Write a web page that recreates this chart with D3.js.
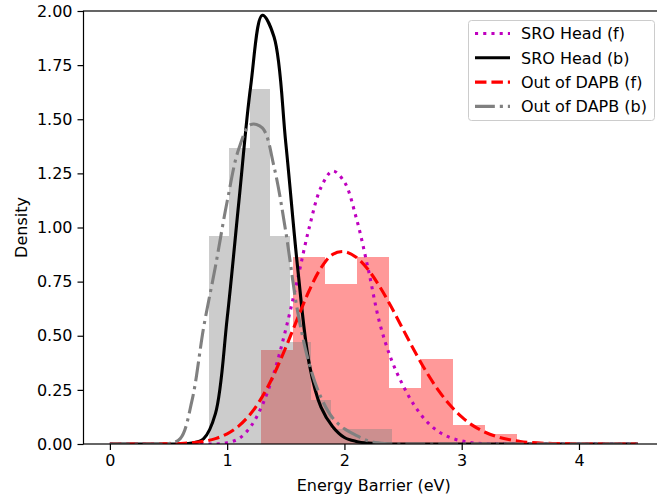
<!DOCTYPE html>
<html>
<head>
<meta charset="utf-8">
<title>Energy barrier density</title>
<script src="https://d3js.org/d3.v7.min.js"></script>
<style>
  body { margin: 0; background: #fff; }
  text { font-family: "DejaVu Sans", sans-serif; fill: #000; }
</style>
</head>
<body>
<script>
// sample grid (eV) shared by the four density curves
var energyGrid = [0.0, 0.1, 0.2, 0.3, 0.4, 0.5, 0.6, 0.7, 0.8, 0.9,
                  1.0, 1.1, 1.2, 1.3, 1.4, 1.5, 1.6, 1.7, 1.8, 1.9,
                  2.0, 2.1, 2.2, 2.3, 2.4, 2.5, 2.6, 2.7, 2.8, 2.9,
                  3.0, 3.1, 3.2, 3.3, 3.4, 3.5, 3.6, 3.7, 3.8, 3.9,
                  4.0, 4.1, 4.2, 4.3, 4.4, 4.5];

var sroHeadF = [0, 0, 0, 0, 0, 0, 0, 0, 0, 0,
                0.006, 0.025, 0.08, 0.18, 0.33, 0.53, 0.76, 1.0, 1.185, 1.261,
                1.21, 1.046, 0.815, 0.56, 0.39, 0.27, 0.175, 0.105, 0.058, 0.03,
                0.014, 0.005, 0.001, 0, 0, 0, 0, 0, 0, 0,
                0, 0, 0, 0, 0, 0];

var sroHeadB = [0, 0, 0, 0, 0, 0, 0, 0.004, 0.025, 0.14,
                0.58, 1.12, 1.65, 1.98, 1.88, 1.39, 0.82, 0.37, 0.17, 0.08,
                0.03, 0.012, 0.004, 0.001, 0, 0, 0, 0, 0, 0,
                0, 0, 0, 0, 0, 0, 0, 0, 0, 0,
                0, 0, 0, 0, 0, 0];

var dapbF = [0, 0, 0, 0, 0.0004, 0.001, 0.0025, 0.0058, 0.0123, 0.0249,
             0.0471, 0.0836, 0.1396, 0.2189, 0.3224, 0.4463, 0.580, 0.709, 0.813, 0.876,
             0.8885, 0.8626, 0.807, 0.7277, 0.6323, 0.5295, 0.4272, 0.3322, 0.2489, 0.1798,
             0.1252, 0.0839, 0.0543, 0.0338, 0.0203, 0.0117, 0.0065, 0.0035, 0.0018, 0.0009,
             0.0004, 0.0002, 0.0001, 0, 0, 0];

var dapbB = [0, 0, 0, 0, 0, 0.002, 0.025, 0.2, 0.54, 0.82,
             1.12, 1.365, 1.475, 1.46, 1.28, 0.98, 0.615, 0.37, 0.215, 0.12,
             0.07, 0.04, 0.015, 0.005, 0.001, 0, 0, 0, 0, 0,
             0, 0, 0, 0, 0, 0, 0, 0, 0, 0,
             0, 0, 0, 0, 0, 0];

// histograms (density)
var grayEdges = [0.844, 1.017, 1.191, 1.364, 1.537, 1.711, 1.884, 2.057, 2.230, 2.404];
var grayDensity = [0.96, 1.365, 1.64, 0.96, 0.47, 0.205, 0.067, 0.067, 0.067];
var redEdges = [1.285, 1.558, 1.831, 2.105, 2.378, 2.651, 2.925, 3.198, 3.471];
var redDensity = [0.434, 0.865, 0.738, 0.865, 0.26, 0.392, 0.088, 0.045];

var xTicks = [0, 1, 2, 3, 4];
var yTicks = [0, 0.25, 0.5, 0.75, 1.0, 1.25, 1.5, 1.75, 2.0];
var legendLabels = ["SRO Head (f)", "SRO Head (b)", "Out of DAPB (f)", "Out of DAPB (b)"];

var width = 657, height = 497;
var lw = 3.1;
var fontSize = "16px";

var x = d3.scaleLinear().domain([-0.225, 4.725]).range([83.5, 664]);
var y = d3.scaleLinear().domain([0, 2]).range([444, 11]);

var svg = d3.select("body").append("svg")
    .attr("width", width)
    .attr("height", height);

svg.append("defs").append("clipPath").attr("id", "plotclip")
  .append("rect")
    .attr("x", x.range()[0]).attr("y", y.range()[1])
    .attr("width", x.range()[1] - x.range()[0])
    .attr("height", y.range()[0] - y.range()[1]);

var plot = svg.append("g").attr("clip-path", "url(#plotclip)");

function bars(edges, dens, color) {
    plot.append("g").selectAll("rect")
        .data(dens)
        .enter().append("rect")
        .attr("x", function(d, i) { return x(edges[i]); })
        .attr("width", function(d, i) { return x(edges[i + 1]) - x(edges[i]); })
        .attr("y", function(d) { return y(d); })
        .attr("height", function(d) { return y(0) - y(d); })
        .attr("fill", color)
        .attr("fill-opacity", 0.4)
        .attr("shape-rendering", "crispEdges");
}
bars(redEdges, redDensity, "#ff0000");
bars(grayEdges, grayDensity, "#808080");

var series = [
    {label: legendLabels[0], values: sroHeadF, color: "#bf00bf", dash: [lw, 1.65 * lw]},
    {label: legendLabels[1], values: sroHeadB, color: "#000000", dash: null},
    {label: legendLabels[2], values: dapbF, color: "#ff0000", dash: [3.7 * lw, 1.6 * lw]},
    {label: legendLabels[3], values: dapbB, color: "#808080", dash: [6.4 * lw, 1.6 * lw, lw, 1.6 * lw]}
];

var line = d3.line()
    .x(function(d) { return x(d[0]); })
    .y(function(d) { return y(d[1]); })
    .curve(d3.curveCatmullRom);

series.forEach(function(s) {
    plot.append("path")
        .datum(energyGrid.map(function(e, i) { return [e, s.values[i]]; }))
        .attr("d", line)
        .attr("fill", "none")
        .attr("stroke", s.color)
        .attr("stroke-width", lw)
        .attr("stroke-linejoin", "round")
        .attr("stroke-dasharray", s.dash ? s.dash.join(",") : null);
});

// axes
var xAxis = svg.append("g")
    .attr("transform", "translate(0," + y(0) + ")")
    .call(d3.axisBottom(x).tickValues(xTicks).tickFormat(d3.format("d")).tickSize(6).tickPadding(5));
var yAxis = svg.append("g")
    .attr("transform", "translate(" + x.range()[0] + ",0)")
    .call(d3.axisLeft(y).tickValues(yTicks).tickFormat(d3.format(".2f")).tickSize(6).tickPadding(5));

[xAxis, yAxis].forEach(function(g) {
    g.select(".domain").remove();
    g.selectAll(".tick line").attr("stroke", "#000").attr("stroke-width", 1.2);
    g.selectAll(".tick text").attr("font-family", "DejaVu Sans").attr("font-size", fontSize).attr("fill", "#000");
});

// frame
svg.append("rect")
    .attr("x", x.range()[0]).attr("y", y.range()[1])
    .attr("width", x.range()[1] - x.range()[0])
    .attr("height", y.range()[0] - y.range()[1])
    .attr("fill", "none").attr("stroke", "#000").attr("stroke-width", 1.2);

svg.append("text")
    .attr("x", (x.range()[0] + x.range()[1]) / 2)
    .attr("y", 491)
    .attr("text-anchor", "middle")
    .attr("font-size", fontSize)
    .text("Energy Barrier (eV)");

svg.append("text")
    .attr("transform", "translate(27," + (y.range()[0] + y.range()[1]) / 2 + ") rotate(-90)")
    .attr("text-anchor", "middle")
    .attr("font-size", fontSize)
    .text("Density");

// legend
var legend = svg.append("g");
legend.append("rect")
    .attr("x", 468.5).attr("y", 20.5)
    .attr("width", 186).attr("height", 100)
    .attr("rx", 3)
    .attr("fill", "#fff").attr("fill-opacity", 0.8)
    .attr("stroke", "#cccccc").attr("stroke-width", 1);

series.forEach(function(s, i) {
    var cy = 33.5 + i * 24.3;
    legend.append("line")
        .attr("x1", 475).attr("x2", 510)
        .attr("y1", cy).attr("y2", cy)
        .attr("stroke", s.color)
        .attr("stroke-width", lw)
        .attr("stroke-dasharray", s.dash ? s.dash.join(",") : null);
    legend.append("text")
        .attr("x", 521).attr("y", cy + 5.8)
        .attr("font-size", fontSize)
        .text(s.label);
});
</script>
</body>
</html>
